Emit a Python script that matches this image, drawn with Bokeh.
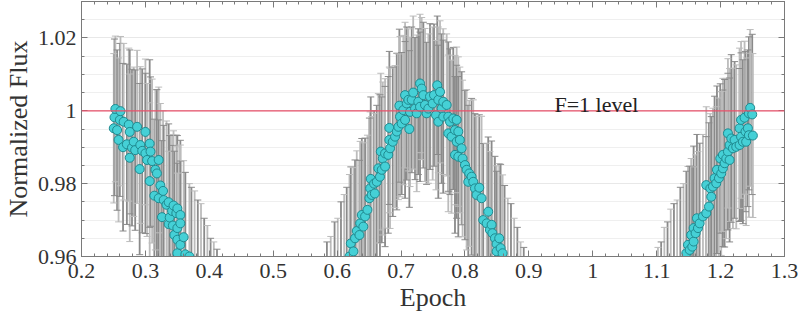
from bokeh.plotting import figure
from bokeh.models import (ColumnDataSource, Range1d, LinearAxis, SingleIntervalTicker,
                          CustomJSTickFormatter, Span, Label)
from bokeh.embed import file_html
from bokeh.resources import INLINE

# Phase-folded light curve: normalized flux with 1-sigma uncertainties,
# split into the three visible arcs of the fold.
phase_a = [
    0.2505, 0.2516, 0.2530, 0.2557, 0.2580, 0.2600, 0.2610, 0.2650,
    0.2660, 0.2710, 0.2740, 0.2755, 0.2755, 0.2790, 0.2817, 0.2840,
    0.2870, 0.2910, 0.2920, 0.2950, 0.3000, 0.3000, 0.3026, 0.3067,
    0.3067, 0.3080, 0.3105, 0.3140, 0.3156, 0.3180, 0.3208, 0.3208,
    0.3234, 0.3260, 0.3276, 0.3286, 0.3330, 0.3364, 0.3364, 0.3380,
    0.3417, 0.3430, 0.3440, 0.3453, 0.3484, 0.3500, 0.3500, 0.3500,
    0.3500, 0.3547, 0.3547, 0.3547, 0.3598, 0.3625, 0.3688, 0.3720,
    0.3770, 0.3820, 0.3870, 0.3920, 0.3970, 0.4020, 0.4070, 0.4120,
]
flux_a = [
    0.9952, 0.9982, 1.0005, 0.9947, 0.9920, 0.9975, 0.9999, 0.9900,
    0.9970, 0.9908, 0.9962, 0.9942, 0.9871, 0.9899, 0.9915, 0.9892,
    0.9956, 0.9840, 0.9906, 0.9890, 0.9942, 0.9883, 0.9865, 0.9910,
    0.9807, 0.9888, 0.9862, 0.9767, 0.9838, 0.9828, 0.9865, 0.9760,
    0.9795, 0.9708, 0.9780, 0.9755, 0.9742, 0.9749, 0.9689, 0.9707,
    0.9725, 0.9685, 0.9740, 0.9659, 0.9719, 0.9732, 0.9678, 0.9646,
    0.9609, 0.9714, 0.9691, 0.9632, 0.9653, 0.9606, 0.9600, 0.9575,
    0.9560, 0.9545, 0.9520, 0.9500, 0.9470, 0.9450, 0.9430, 0.9415,
]
err_a = [
    0.0205, 0.0215, 0.0200, 0.0220, 0.0225, 0.0210, 0.0205, 0.0230,
    0.0215, 0.0220, 0.0210, 0.0225, 0.0230, 0.0215, 0.0205, 0.0220,
    0.0210, 0.0235, 0.0215, 0.0225, 0.0200, 0.0220, 0.0210, 0.0230,
    0.0215, 0.0205, 0.0225, 0.0210, 0.0220, 0.0230, 0.0200, 0.0215,
    0.0225, 0.0210, 0.0220, 0.0205, 0.0230, 0.0215, 0.0200, 0.0225,
    0.0210, 0.0220, 0.0205, 0.0230, 0.0215, 0.0200, 0.0225, 0.0210,
    0.0220, 0.0205, 0.0215, 0.0230, 0.0210, 0.0225, 0.0200, 0.0215,
    0.0220, 0.0210, 0.0225, 0.0205, 0.0215, 0.0200, 0.0210, 0.0205,
]

phase_b = [
    0.5780, 0.5840, 0.5900, 0.5960, 0.6010, 0.6060, 0.6110, 0.6150,
    0.6193, 0.6214, 0.6255, 0.6280, 0.6307, 0.6349, 0.6360, 0.6386,
    0.6410, 0.6437, 0.6474, 0.6505, 0.6516, 0.6526, 0.6540, 0.6578,
    0.6590, 0.6620, 0.6645, 0.6670, 0.6683, 0.6698, 0.6714, 0.6750,
    0.6750, 0.6800, 0.6817, 0.6817, 0.6828, 0.6870, 0.6906, 0.6933,
    0.6958, 0.6974, 0.6984, 0.7010, 0.7036, 0.7063, 0.7063, 0.7089,
    0.7115, 0.7130, 0.7140, 0.7167, 0.7190, 0.7219, 0.7245, 0.7270,
    0.7297, 0.7297, 0.7323, 0.7349, 0.7375, 0.7400, 0.7427, 0.7453,
    0.7495, 0.7516, 0.7547, 0.7567, 0.7583, 0.7583, 0.7610, 0.7635,
    0.7660, 0.7660, 0.7714, 0.7739, 0.7739, 0.7766, 0.7790, 0.7817,
    0.7844, 0.7844, 0.7870, 0.7870, 0.7896, 0.7896, 0.7920, 0.7948,
    0.7963, 0.8000, 0.8026, 0.8052, 0.8067, 0.8104, 0.8130, 0.8156,
    0.8182, 0.8224, 0.8260, 0.8286, 0.8340, 0.8364, 0.8390, 0.8417,
    0.8430, 0.8469, 0.8495, 0.8495, 0.8536, 0.8558, 0.8589, 0.8620,
    0.8670, 0.8720, 0.8770, 0.8820, 0.8870, 0.8920, 0.8970, 0.9010,
]
flux_b = [
    0.9380, 0.9410, 0.9440, 0.9470, 0.9495, 0.9520, 0.9550, 0.9575,
    0.9600, 0.9636, 0.9614, 0.9650, 0.9670, 0.9659, 0.9691, 0.9714,
    0.9682, 0.9710, 0.9728, 0.9760, 0.9787, 0.9813, 0.9769, 0.9800,
    0.9773, 0.9805, 0.9842, 0.9819, 0.9888, 0.9838, 0.9869, 0.9847,
    0.9883, 0.9879, 0.9920, 0.9953, 0.9897, 0.9915, 0.9929, 0.9943,
    0.9956, 1.0014, 0.9984, 0.9965, 1.0002, 0.9975, 1.0043, 1.0020,
    1.0030, 0.9950, 0.9997, 1.0030, 1.0050, 1.0006, 0.9993, 1.0025,
    1.0075, 1.0011, 1.0061, 1.0043, 1.0016, 0.9993, 1.0006, 1.0039,
    1.0020, 1.0043, 0.9988, 1.0070, 1.0030, 0.9970, 1.0052, 1.0006,
    1.0025, 0.9984, 1.0016, 0.9984, 0.9938, 0.9970, 0.9929, 0.9979,
    0.9947, 0.9879, 0.9975, 0.9915, 0.9943, 0.9874, 0.9920, 0.9897,
    0.9869, 0.9851, 0.9838, 0.9805, 0.9828, 0.9819, 0.9805, 0.9787,
    0.9769, 0.9789, 0.9760, 0.9700, 0.9691, 0.9723, 0.9673, 0.9687,
    0.9664, 0.9650, 0.9634, 0.9614, 0.9650, 0.9623, 0.9609, 0.9575,
    0.9550, 0.9520, 0.9490, 0.9460, 0.9430, 0.9400, 0.9375, 0.9355,
]
err_b = [
    0.0220, 0.0230, 0.0215, 0.0225, 0.0210, 0.0230, 0.0220, 0.0215,
    0.0225, 0.0210, 0.0230, 0.0215, 0.0220, 0.0205, 0.0225, 0.0210,
    0.0230, 0.0215, 0.0205, 0.0220, 0.0210, 0.0225, 0.0215, 0.0200,
    0.0220, 0.0210, 0.0205, 0.0225, 0.0215, 0.0200, 0.0210, 0.0220,
    0.0205, 0.0215, 0.0200, 0.0210, 0.0220, 0.0205, 0.0195, 0.0215,
    0.0200, 0.0210, 0.0220, 0.0195, 0.0205, 0.0215, 0.0200, 0.0210,
    0.0195, 0.0215, 0.0205, 0.0200, 0.0210, 0.0195, 0.0215, 0.0200,
    0.0190, 0.0205, 0.0195, 0.0200, 0.0210, 0.0195, 0.0205, 0.0200,
    0.0210, 0.0195, 0.0205, 0.0190, 0.0200, 0.0210, 0.0195, 0.0205,
    0.0200, 0.0210, 0.0195, 0.0205, 0.0215, 0.0200, 0.0210, 0.0195,
    0.0205, 0.0215, 0.0200, 0.0210, 0.0205, 0.0220, 0.0200, 0.0210,
    0.0215, 0.0205, 0.0220, 0.0210, 0.0200, 0.0215, 0.0225, 0.0205,
    0.0215, 0.0200, 0.0225, 0.0210, 0.0220, 0.0205, 0.0215, 0.0230,
    0.0210, 0.0225, 0.0215, 0.0220, 0.0205, 0.0230, 0.0215, 0.0220,
    0.0210, 0.0225, 0.0215, 0.0220, 0.0210, 0.0225, 0.0215, 0.0220,
]

phase_c = [
    1.1020, 1.1070, 1.1120, 1.1170, 1.1220, 1.1270, 1.1320, 1.1370,
    1.1420, 1.1464, 1.1490, 1.1516, 1.1540, 1.1557, 1.1578, 1.1578,
    1.1609, 1.1630, 1.1646, 1.1672, 1.1724, 1.1776, 1.1776, 1.1818,
    1.1839, 1.1854, 1.1880, 1.1906, 1.1932, 1.1943, 1.1974, 1.1995,
    1.2010, 1.2036, 1.2036, 1.2063, 1.2089, 1.2115, 1.2115, 1.2141,
    1.2141, 1.2167, 1.2193, 1.2219, 1.2245, 1.2297, 1.2297, 1.2320,
    1.2320, 1.2349, 1.2375, 1.2390, 1.2400, 1.2427, 1.2443, 1.2443,
    1.2463, 1.2495, 1.2505,
]
flux_c = [
    0.9410, 0.9435, 0.9460, 0.9485, 0.9505, 0.9530, 0.9550, 0.9570,
    0.9590, 0.9609, 0.9632, 0.9618, 0.9659, 0.9627, 0.9641, 0.9678,
    0.9664, 0.9705, 0.9678, 0.9691, 0.9710, 0.9719, 0.9796, 0.9737,
    0.9787, 0.9764, 0.9792, 0.9815, 0.9801, 0.9838, 0.9815, 0.9869,
    0.9828, 0.9842, 0.9879, 0.9856, 0.9869, 0.9888, 0.9938, 0.9865,
    0.9906, 0.9924, 0.9897, 0.9920, 0.9901, 0.9906, 0.9952, 0.9929,
    0.9975, 0.9915, 0.9981, 0.9943, 0.9915, 0.9952, 0.9933, 0.9993,
    1.0008, 0.9990, 0.9932,
]
err_c = [
    0.0215, 0.0205, 0.0220, 0.0210, 0.0225, 0.0215, 0.0205, 0.0220,
    0.0210, 0.0225, 0.0215, 0.0230, 0.0210, 0.0220, 0.0205, 0.0225,
    0.0215, 0.0230, 0.0210, 0.0220, 0.0225, 0.0210, 0.0215, 0.0230,
    0.0205, 0.0220, 0.0215, 0.0225, 0.0210, 0.0230, 0.0220, 0.0205,
    0.0225, 0.0215, 0.0210, 0.0230, 0.0220, 0.0215, 0.0205, 0.0225,
    0.0210, 0.0230, 0.0220, 0.0215, 0.0225, 0.0210, 0.0220, 0.0230,
    0.0215, 0.0225, 0.0210, 0.0220, 0.0230, 0.0215, 0.0225, 0.0210,
    0.0215, 0.0220, 0.0225,
]

F_LEVEL = 1.0
F_LEVEL_TEXT = "F=1 level"
X_LABEL = "Epoch"
Y_LABEL = "Normalized Flux"

SERIF = "'Liberation Serif', 'DejaVu Serif', serif"
AXIS_GREY = "#7a7a7a"
TEXT_GREY = "#333333"

phase = phase_a + phase_b + phase_c
flux = flux_a + flux_b + flux_c
err = err_a + err_b + err_c

source = ColumnDataSource(dict(
    phase=phase,
    flux=flux,
    lo=[f - e for f, e in zip(flux, err)],
    hi=[f + e for f, e in zip(flux, err)],
    shade=[("#bcbcbc" if i % 2 == 0 else "#8a8a8a") for i in range(len(phase))],
))

p = figure(
    width=800, height=320,
    x_range=Range1d(0.2, 1.3), y_range=Range1d(0.96, 1.03),
    output_backend="svg", toolbar_location=None,
    min_border_left=81, min_border_right=16, min_border_top=1, min_border_bottom=64,
    background_fill_color="white", border_fill_color="white",
)
p.outline_line_color = AXIS_GREY
p.outline_line_width = 1

# tickers and formatting
fmt = CustomJSTickFormatter(code="return String(parseFloat(tick.toFixed(4)));")
blank = CustomJSTickFormatter(code="return '';")
xticker = SingleIntervalTicker(interval=0.1, num_minor_ticks=5)
yticker = SingleIntervalTicker(interval=0.02, num_minor_ticks=4)

for ax in (p.xaxis[0], p.yaxis[0]):
    ax.formatter = fmt
    ax.major_label_text_font = SERIF
    ax.major_label_text_font_size = "22px"
    ax.major_label_text_color = TEXT_GREY
    ax.axis_label_text_font = SERIF
    ax.axis_label_text_font_size = "26px"
    ax.axis_label_text_font_style = "normal"
    ax.axis_label_text_color = TEXT_GREY
    ax.axis_line_color = AXIS_GREY
    ax.major_tick_line_color = AXIS_GREY
    ax.minor_tick_line_color = AXIS_GREY
    ax.major_tick_in = 6
    ax.major_tick_out = 0
    ax.minor_tick_in = 3
    ax.minor_tick_out = 0

p.xaxis[0].ticker = xticker
p.yaxis[0].ticker = yticker
p.xaxis[0].axis_label = X_LABEL
p.yaxis[0].axis_label = Y_LABEL
p.xaxis[0].major_label_standoff = 7
p.yaxis[0].major_label_standoff = 5
p.xaxis[0].axis_label_standoff = 2
p.yaxis[0].axis_label_standoff = 2

# mirrored tick marks on the top and right edges
for loc, tk in (("above", xticker), ("right", yticker)):
    ax = LinearAxis(ticker=tk, formatter=blank, major_label_standoff=0,
                    axis_line_color=AXIS_GREY, major_tick_line_color=AXIS_GREY,
                    minor_tick_line_color=AXIS_GREY, major_tick_in=6, major_tick_out=0,
                    minor_tick_in=3, minor_tick_out=0)
    p.add_layout(ax, loc)

p.xgrid.grid_line_color = None
p.ygrid.ticker = yticker
p.ygrid.grid_line_color = "#e8e8e8"
p.ygrid.minor_grid_line_color = "#efefef"

# error bars: stems and caps
p.segment(x0="phase", y0="lo", x1="phase", y1="hi", source=source,
          line_color="shade", line_width=1.8)
p.scatter(x="phase", y="hi", source=source, marker="dash", size=7,
          line_color="shade", line_width=1)
p.scatter(x="phase", y="lo", source=source, marker="dash", size=7,
          line_color="shade", line_width=1)

# reference flux level
p.add_layout(Span(location=F_LEVEL, dimension="width", line_color="#e8506a", line_width=1.2))
p.add_layout(Label(x=0.94, y=F_LEVEL + 0.0018, text=F_LEVEL_TEXT, text_font=SERIF,
                   text_font_size="22px", text_color="#222222", text_baseline="alphabetic"))

# measurements
p.scatter(x="phase", y="flux", source=source, size=9,
          fill_color="#45d0d6", line_color="#1f8a90", line_width=1)

open("out.html", "w").write(file_html(p, INLINE))
